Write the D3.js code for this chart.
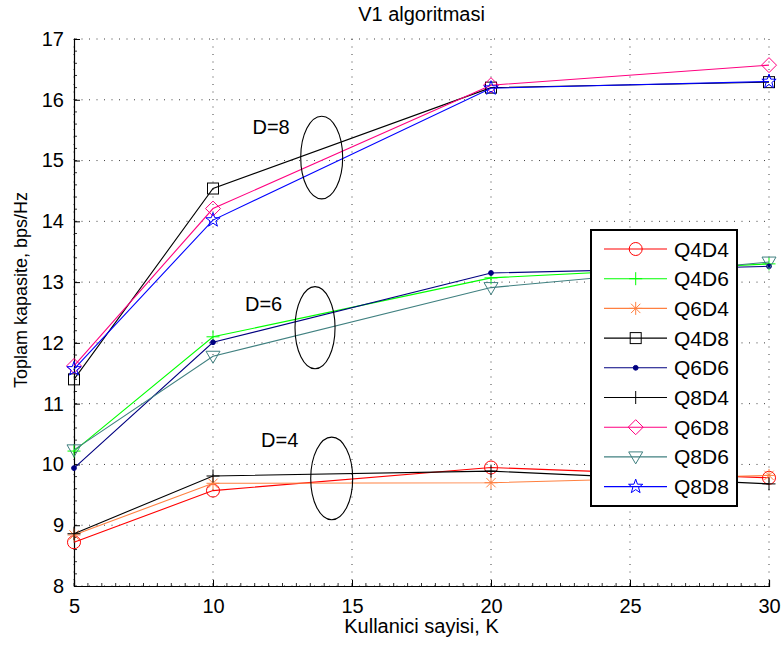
<!DOCTYPE html>
<html>
<head>
<meta charset="utf-8">
<script src="https://cdn.jsdelivr.net/npm/d3@7/dist/d3.min.js"></script>
<style>
html,body{margin:0;padding:0;background:#fff;}
svg{display:block;font-family:"Liberation Sans",Arial,sans-serif;}
</style>
</head>
<body>
<svg id="chart" width="784" height="645"></svg>
<script>
const users = [5, 10, 20, 30];
const seriesNames = ["Q4D4","Q4D6","Q6D4","Q4D8","Q6D6","Q8D4","Q6D8","Q8D6","Q8D8"];
const Q4D4 = [8.72, 9.57, 9.95, 9.78];
const Q4D6 = [10.22, 12.10, 13.07, 13.30];
const Q6D4 = [8.84, 9.69, 9.70, 9.82];
const Q4D8 = [11.40, 14.54, 16.20, 16.29];
const Q6D6 = [9.94, 12.01, 13.15, 13.26];
const Q8D4 = [8.86, 9.81, 9.89, 9.68];
const Q6D8 = [11.62, 14.21, 16.24, 16.57];
const Q8D6 = [10.24, 11.78, 12.91, 13.33];
const Q8D8 = [11.57, 14.02, 16.19, 16.30];
const seriesValues = [Q4D4, Q4D6, Q6D4, Q4D8, Q6D6, Q8D4, Q6D8, Q8D6, Q8D8];
const seriesColors = ["#ff0000","#00ff00","#ff8040","#000000","#000080","#000000","#ff0080","#408080","#0000ff"];
const seriesMarkers = ["circle","plus","asterisk","square","point","plus","diamond","triangleDown","star"];
const xTicks = [5, 10, 15, 20, 25, 30];
const yTicks = [8, 9, 10, 11, 12, 13, 14, 15, 16, 17];
// annotation groups (data coords): label, text x, text y, ellipse cx, cy, rx, ry
const groupLabels = ["D=8", "D=6", "D=4"];
const groupTextX = [11.42, 11.15, 11.73];
const groupTextY = [15.44, 12.53, 10.29];
const groupCx = [13.91, 13.67, 14.27];
const groupCy = [15.05, 12.25, 9.77];
const groupRx = [0.755, 0.72, 0.755];
const groupRy = [0.68, 0.675, 0.68];

const title = "V1 algoritmasi";
const xLabel = "Kullanici sayisi, K";
const yLabel = "Toplam kapasite, bps/Hz";

const svg = d3.select("#chart");
const L = 74, R = 769, T = 39, B = 586;
const x = d3.scaleLinear().domain([5, 30]).range([L, R]);
const y = d3.scaleLinear().domain([8, 17]).range([B, T]);

// grid
const grid = svg.append("g");
grid.selectAll("line.gx").data(xTicks).join("line")
  .attr("x1", d => x(d)).attr("x2", d => x(d)).attr("y1", T).attr("y2", B)
  .attr("stroke", "#000").attr("stroke-width", 1).attr("stroke-dasharray", "1,6.5").attr("opacity", 0.75);
grid.selectAll("line.gy").data(yTicks).join("line")
  .attr("x1", L).attr("x2", R).attr("y1", d => y(d)).attr("y2", d => y(d))
  .attr("stroke", "#000").attr("stroke-width", 1).attr("stroke-dasharray", "1,6.5").attr("opacity", 0.75);

// axes
const xAxis = d3.axisBottom(x).tickValues(xTicks).tickSize(-6).tickPadding(13).tickFormat(d3.format("d"));
const yAxis = d3.axisLeft(y).tickValues(yTicks).tickSize(-6).tickPadding(10).tickFormat(d3.format("d"));
const gx = svg.append("g").attr("transform", `translate(0,${B})`).call(xAxis);
const gy = svg.append("g").attr("transform", `translate(${L},0)`).call(yAxis);
[gx, gy].forEach(g => {
  g.select(".domain").attr("stroke", "#000").attr("stroke-width", 1.2);
  g.selectAll(".tick line").attr("stroke", "#000");
  g.selectAll(".tick text").attr("font-size", 20).attr("fill", "#000")
    .attr("font-family", "'Liberation Sans', Arial, sans-serif");
});
// minor ticks
const xMinor = d3.range(5, 30.001, 0.5);
const yMinor = d3.range(8, 17.001, 0.2);
svg.append("g").selectAll("line").data(xMinor).join("line")
  .attr("x1", d => x(d)).attr("x2", d => x(d)).attr("y1", B).attr("y2", B - 3)
  .attr("stroke", "#000").attr("stroke-width", 0.8);
svg.append("g").selectAll("line").data(yMinor).join("line")
  .attr("x1", L).attr("x2", L + 3).attr("y1", d => y(d)).attr("y2", d => y(d))
  .attr("stroke", "#000").attr("stroke-width", 0.8);

// labels
svg.append("text").attr("x", (L + R) / 2).attr("y", 21).attr("text-anchor", "middle")
  .attr("font-size", 20).text(title);
svg.append("text").attr("x", (L + R) / 2).attr("y", 633).attr("text-anchor", "middle")
  .attr("font-size", 20).text(xLabel);
svg.append("text").attr("transform", `translate(27,290) rotate(-90)`).attr("text-anchor", "middle")
  .attr("font-size", 18).text(yLabel);

// marker drawing
function drawMarker(g, type, color) {
  const s = 6.5;
  switch (type) {
    case "circle":
      g.append("circle").attr("r", 6.5).attr("fill", "none").attr("stroke", color); break;
    case "plus":
      g.append("path").attr("d", `M${-s},0H${s}M0,${-s}V${s}`).attr("stroke", color).attr("fill", "none"); break;
    case "asterisk": {
      const k = s * 0.72;
      g.append("path").attr("d", `M${-s},0H${s}M0,${-s}V${s}M${-k},${-k}L${k},${k}M${-k},${k}L${k},${-k}`)
        .attr("stroke", color).attr("fill", "none"); break;
    }
    case "square":
      g.append("rect").attr("x", -5.5).attr("y", -5.5).attr("width", 11).attr("height", 11)
        .attr("fill", "none").attr("stroke", color); break;
    case "point":
      g.append("circle").attr("r", 2.4).attr("fill", color).attr("stroke", color); break;
    case "diamond":
      g.append("path").attr("d", "M0,-7.5L7.5,0L0,7.5L-7.5,0Z").attr("fill", "none").attr("stroke", color); break;
    case "triangleDown":
      g.append("path").attr("d", "M-7,-5L7,-5L0,7Z").attr("fill", "none").attr("stroke", color); break;
    case "star": {
      const pts = [];
      for (let i = 0; i < 10; i++) {
        const r = i % 2 === 0 ? 7.5 : 3;
        const a = -Math.PI / 2 + i * Math.PI / 5;
        pts.push([r * Math.cos(a), r * Math.sin(a)]);
      }
      g.append("path").attr("d", "M" + pts.map(p => p.join(",")).join("L") + "Z")
        .attr("fill", "none").attr("stroke", color); break;
    }
  }
}

// series
const line = d3.line().x(d => x(d[0])).y(d => y(d[1]));
seriesNames.forEach((name, i) => {
  const pts = users.map((u, j) => [u, seriesValues[i][j]]);
  const g = svg.append("g");
  g.append("path").datum(pts).attr("d", line).attr("fill", "none")
    .attr("stroke", seriesColors[i]).attr("stroke-width", 1.1);
  pts.forEach(p => {
    const m = g.append("g").attr("transform", `translate(${x(p[0])},${y(p[1])})`);
    drawMarker(m, seriesMarkers[i], seriesColors[i]);
  });
});

// annotations
groupLabels.forEach((lab, i) => {
  svg.append("text").attr("x", x(groupTextX[i])).attr("y", y(groupTextY[i]))
    .attr("font-size", 20).text(lab);
  svg.append("ellipse").attr("cx", x(groupCx[i])).attr("cy", y(groupCy[i]))
    .attr("rx", x(5 + groupRx[i]) - x(5)).attr("ry", y(8) - y(8 + groupRy[i]))
    .attr("fill", "none").attr("stroke", "#000").attr("stroke-width", 1.1);
});

// legend
const lg = svg.append("g").attr("transform", "translate(591,230)");
lg.append("rect").attr("width", 146).attr("height", 276).attr("fill", "#fff")
  .attr("stroke", "#000").attr("stroke-width", 2);
seriesNames.forEach((name, i) => {
  const yy = 19 + i * 29.7;
  lg.append("line").attr("x1", 13).attr("x2", 76).attr("y1", yy).attr("y2", yy)
    .attr("stroke", seriesColors[i]).attr("stroke-width", 1.1);
  const m = lg.append("g").attr("transform", `translate(44.7,${yy})`);
  drawMarker(m, seriesMarkers[i], seriesColors[i]);
  lg.append("text").attr("x", 83).attr("y", yy + 7.5).attr("font-size", 21).text(name);
});
</script>
</body>
</html>
